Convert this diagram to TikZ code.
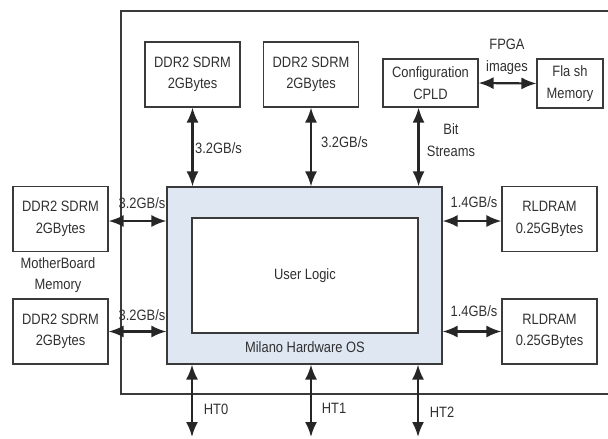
\documentclass[tikz,border=0pt]{standalone}
\usepackage{fontspec}
\setmainfont[FakeStretch=0.86]{Liberation Sans}
\usepackage{tikz}
\usetikzlibrary{positioning,arrows.meta,calc}
\definecolor{boxc}{HTML}{3A3A3A}
\definecolor{txtc}{HTML}{303030}
\definecolor{osfill}{HTML}{DEE7F2}
\tikzset{
  mem/.style={draw=boxc,line width=1.1pt,align=center,inner sep=0pt,
    minimum width=95pt,minimum height=65pt,text=txtc},
  bus/.style={{Latex[length=15pt,width=12pt]}-{Latex[length=15pt,width=12pt]},
    line width=2.2pt,black!85},
  lbl/.style={text=txtc,align=center,inner sep=0pt},
  board/.style={line width=1.1pt,boxc},
}

\begin{document}
\begin{tikzpicture}[x=1pt,y=-1pt,font=\fontsize{15}{21.5}\selectfont]
  \useasboundingbox (0,0) rectangle (608,439);
  % FPGA board outline (right side runs off)
  \draw[board] (608,11) -- (121,11) -- (121,394) -- (608,394);
  % Milano OS with user logic inside
  \node[mem,fill=osfill,minimum width=275pt,minimum height=177pt] (os) at (304.5,275.5) {};
  \node[mem,fill=white,minimum width=226pt,minimum height=115pt] (ul) at (305,275.5) {User Logic};
  \node[lbl] (osname) at (305,347) {Milano Hardware OS};
  % memories
  \node[mem] (ddrA) at (192.5,74.5) {DDR2 SDRM\\2GBytes};
  \node[mem] (ddrB) at (311,74.5) {DDR2 SDRM\\2GBytes};
  \node[mem,minimum height=48pt] (cpld) at (430.5,83) {Configuration\\CPLD};
  \node[mem,minimum width=66pt,minimum height=49pt] (flash) at (570,83.5) {Fla sh\\Memory};
  \node[mem] (mbA) at (60.5,219) {DDR2 SDRM\\2GBytes};
  \node[mem] (mbB) at (60.5,331.5) {DDR2 SDRM\\2GBytes};
  \node[mem] (rlA) at (549.5,219) {RLDRAM\\0.25GBytes};
  \node[mem] (rlB) at (549.5,331.5) {RLDRAM\\0.25GBytes};
  \node[lbl] (mbmem) at (58,275) {MotherBoard\\Memory};
  % free ends of the HT links
  \coordinate (ht0) at (192,437);
  \coordinate (ht1) at (311,437);
  \coordinate (ht2) at (418,437);
  % buses
  \draw[bus] (ddrA.south) -- (ddrA.south |- os.north);
  \draw[bus] (ddrB.south) -- (ddrB.south |- os.north);
  \draw[bus] (cpld.south -| ul.east) -- (ul.east |- os.north);
  \draw[bus] (cpld.east) -- (flash.west);
  \draw[bus] ($(mbA.east)+(0,2)$) -- ($(mbA.east -| os.west)+(0,2)$);
  \draw[bus] (mbB.east) -- (mbB.east -| os.west);
  \draw[bus] ($(os.east |- rlA.west)+(0,2)$) -- ($(rlA.west)+(0,2)$);
  \draw[bus] (os.east |- rlB.west) -- (rlB.west);
  \draw[bus] (os.south -| ht0) -- (ht0);
  \draw[bus] (os.south -| ht1) -- (ht1);
  \draw[bus] (os.south -| ht2) -- (ht2);
  % bus labels
  \node[lbl,anchor=west] (bwA) at (195,148) {3.2GB/s};
  \node[lbl,anchor=west] (bwB) at (321,142) {3.2GB/s};
  \node[lbl] (bits) at (451,140) {Bit\\Streams};
  \node[lbl] (fpga) at (507,57) {FPGA\\images};
  \node[lbl] (bwC) at (142,203) {3.2GB/s};
  \node[lbl] (bwD) at (142,315) {3.2GB/s};
  \node[lbl] (bwE) at (474,202) {1.4GB/s};
  \node[lbl] (bwF) at (474,311) {1.4GB/s};
  \node[lbl] (lht0) at (216,409) {HT0};
  \node[lbl] (lht1) at (334,408) {HT1};
  \node[lbl] (lht2) at (442,412) {HT2};
\end{tikzpicture}
\end{document}
